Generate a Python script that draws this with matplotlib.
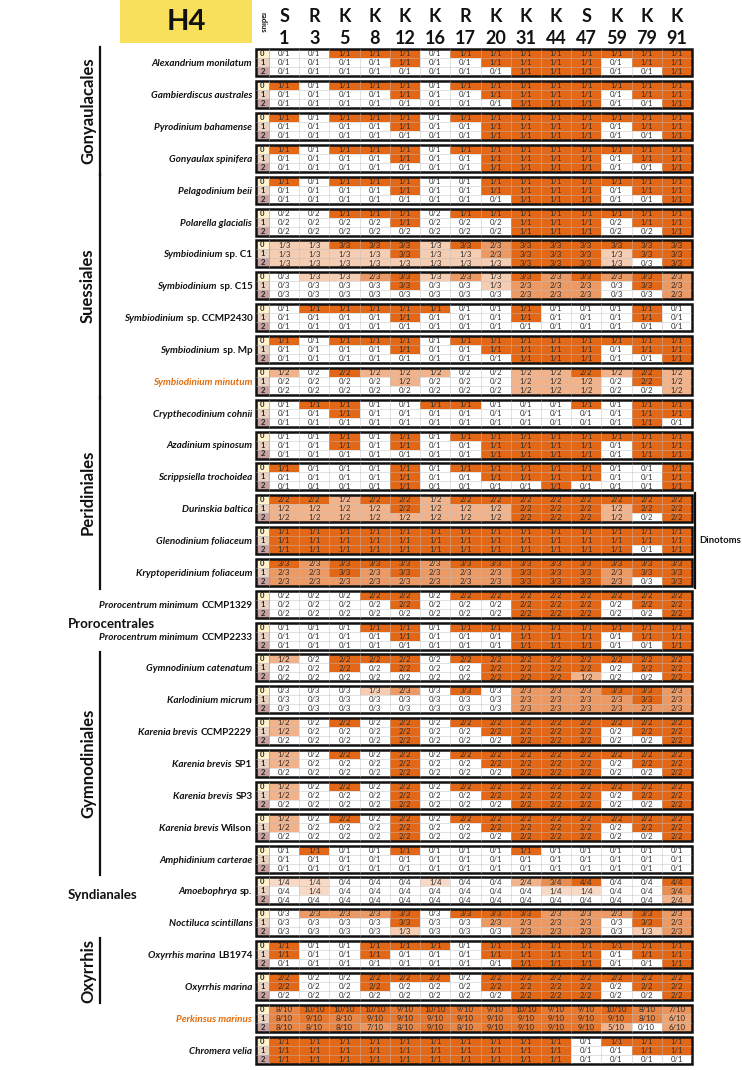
import matplotlib
matplotlib.use("Agg")
import matplotlib.pyplot as plt
import matplotlib.patches as mpatches
import matplotlib.transforms as mtrans

plt.rcParams['font.family'] = ['Lato', 'DejaVu Sans']

# ---------------- data ----------------
residues = ['S', 'R', 'K', 'K', 'K', 'K', 'R', 'K', 'K', 'K', 'S', 'K', 'K', 'K']
numbers = ['1', '3', '5', '8', '12', '16', '17', '20', '31', '44', '47', '59', '79', '91']
radius_labels = ['0', '1', '2']

species_italic = [
    'Alexandrium monilatum', 'Gambierdiscus australes', 'Pyrodinium bahamense', 'Gonyaulax spinifera',
    'Pelagodinium beii', 'Polarella glacialis', 'Symbiodinium', 'Symbiodinium', 'Symbiodinium',
    'Symbiodinium', 'Symbiodinium minutum', 'Crypthecodinium cohnii', 'Azadinium spinosum',
    'Scrippsiella trochoidea', 'Durinskia baltica', 'Glenodinium foliaceum', 'Kryptoperidinium foliaceum',
    'Prorocentrum minimum', 'Prorocentrum minimum', 'Gymnodinium catenatum', 'Karlodinium micrum',
    'Karenia brevis', 'Karenia brevis', 'Karenia brevis', 'Karenia brevis', 'Amphidinium carterae',
    'Amoebophrya', 'Noctiluca scintillans', 'Oxyrrhis marina', 'Oxyrrhis marina', 'Perkinsus marinus',
    'Chromera velia']
species_suffix = [
    '', '', '', '', '', '', 'sp. C1', 'sp. C15', 'sp. CCMP2430', 'sp. Mp', '', '', '', '', '', '', '',
    'CCMP1329', 'CCMP2233', '', '', 'CCMP2229', 'SP1', 'SP3', 'Wilson', '', 'sp.', '', 'LB1974', '', '', '']
highlighted_species = ['Symbiodinium minutum', 'Perkinsus marinus']

groups_vertical = [('Gonyaulacales', 0, 3), ('Suessiales', 4, 10), ('Peridiniales', 11, 16),
                   ('Gymnodiniales', 19, 25), ('Oxyrrhis', 28, 29)]
groups_horizontal = [('Prorocentrales', 17, 18), ('Syndianales', 26, 26)]
dinotoms = ('Dinotoms', 14, 16)

alexandrium_monilatum = [
    "0/1 0/1 1/1 1/1 1/1 0/1 1/1 1/1 1/1 1/1 1/1 1/1 1/1 1/1",
    "0/1 0/1 0/1 0/1 1/1 0/1 0/1 1/1 1/1 1/1 1/1 0/1 1/1 1/1",
    "0/1 0/1 0/1 0/1 0/1 0/1 0/1 0/1 1/1 1/1 1/1 0/1 0/1 1/1"]
gambierdiscus_australes = [
    "1/1 0/1 1/1 1/1 1/1 0/1 1/1 1/1 1/1 1/1 1/1 1/1 1/1 1/1",
    "0/1 0/1 0/1 0/1 1/1 0/1 0/1 1/1 1/1 1/1 1/1 0/1 1/1 1/1",
    "0/1 0/1 0/1 0/1 0/1 0/1 0/1 0/1 1/1 1/1 1/1 0/1 0/1 1/1"]
pyrodinium_bahamense = [
    "1/1 0/1 1/1 1/1 1/1 0/1 1/1 1/1 1/1 1/1 1/1 1/1 1/1 1/1",
    "0/1 0/1 0/1 0/1 1/1 0/1 0/1 1/1 1/1 1/1 1/1 0/1 1/1 1/1",
    "0/1 0/1 0/1 0/1 0/1 0/1 0/1 1/1 1/1 1/1 1/1 0/1 0/1 1/1"]
gonyaulax_spinifera = [
    "1/1 0/1 1/1 1/1 1/1 0/1 1/1 1/1 1/1 1/1 1/1 1/1 1/1 1/1",
    "0/1 0/1 0/1 0/1 1/1 0/1 0/1 1/1 1/1 1/1 1/1 0/1 1/1 1/1",
    "0/1 0/1 0/1 0/1 0/1 0/1 0/1 1/1 1/1 1/1 1/1 0/1 0/1 1/1"]
pelagodinium_beii = [
    "1/1 0/1 1/1 1/1 1/1 0/1 0/1 1/1 1/1 1/1 1/1 1/1 1/1 1/1",
    "0/1 0/1 0/1 0/1 1/1 0/1 0/1 1/1 1/1 1/1 1/1 0/1 1/1 1/1",
    "0/1 0/1 0/1 0/1 0/1 0/1 0/1 0/1 1/1 1/1 1/1 0/1 0/1 1/1"]
polarella_glacialis = [
    "0/2 0/2 1/1 1/1 1/1 0/2 1/1 1/1 1/1 1/1 1/1 1/1 1/1 1/1",
    "0/2 0/2 0/2 0/2 1/1 0/2 0/2 0/2 1/1 1/1 1/1 0/2 1/1 1/1",
    "0/2 0/2 0/2 0/2 0/2 0/2 0/2 0/2 1/1 1/1 1/1 0/2 0/2 1/1"]
symbiodinium_c1 = [
    "1/3 1/3 3/3 3/3 3/3 1/3 3/3 2/3 3/3 3/3 3/3 3/3 3/3 3/3",
    "1/3 1/3 1/3 1/3 3/3 1/3 1/3 2/3 3/3 3/3 3/3 1/3 3/3 3/3",
    "1/3 1/3 1/3 1/3 1/3 1/3 1/3 1/3 3/3 3/3 3/3 1/3 0/3 3/3"]
symbiodinium_c15 = [
    "0/3 1/3 1/3 2/3 3/3 1/3 2/3 1/3 3/3 2/3 3/3 2/3 3/3 2/3",
    "0/3 0/3 0/3 0/3 3/3 0/3 0/3 1/3 2/3 2/3 2/3 0/3 3/3 2/3",
    "0/3 0/3 0/3 0/3 0/3 0/3 0/3 0/3 2/3 2/3 2/3 0/3 0/3 2/3"]
symbiodinium_ccmp2430 = [
    "0/1 1/1 1/1 1/1 1/1 1/1 0/1 0/1 1/1 0/1 0/1 0/1 1/1 0/1",
    "0/1 0/1 0/1 0/1 1/1 0/1 0/1 0/1 1/1 0/1 0/1 0/1 1/1 0/1",
    "0/1 0/1 0/1 0/1 0/1 0/1 0/1 0/1 0/1 0/1 0/1 0/1 0/1 0/1"]
symbiodinium_mp = [
    "1/1 0/1 1/1 1/1 1/1 0/1 1/1 1/1 1/1 1/1 1/1 1/1 1/1 1/1",
    "0/1 0/1 0/1 0/1 1/1 0/1 0/1 1/1 1/1 1/1 1/1 0/1 1/1 1/1",
    "0/1 0/1 0/1 0/1 0/1 0/1 0/1 0/1 1/1 1/1 1/1 0/1 0/1 1/1"]
symbiodinium_minutum = [
    "1/2 0/2 2/2 1/2 1/2 1/2 0/2 0/2 1/2 1/2 2/2 1/2 2/2 1/2",
    "0/2 0/2 0/2 0/2 1/2 0/2 0/2 0/2 1/2 1/2 1/2 0/2 2/2 1/2",
    "0/2 0/2 0/2 0/2 0/2 0/2 0/2 0/2 1/2 1/2 1/2 0/2 0/2 1/2"]
crypthecodinium_cohnii = [
    "0/1 1/1 1/1 0/1 0/1 1/1 1/1 0/1 0/1 0/1 1/1 0/1 1/1 1/1",
    "0/1 0/1 1/1 0/1 0/1 0/1 0/1 0/1 0/1 0/1 0/1 0/1 1/1 1/1",
    "0/1 0/1 0/1 0/1 0/1 0/1 0/1 0/1 0/1 0/1 0/1 0/1 1/1 0/1"]
azadinium_spinosum = [
    "0/1 0/1 1/1 0/1 1/1 0/1 1/1 1/1 1/1 1/1 1/1 1/1 1/1 1/1",
    "0/1 0/1 1/1 0/1 1/1 0/1 0/1 1/1 1/1 1/1 1/1 0/1 1/1 1/1",
    "0/1 0/1 0/1 0/1 0/1 0/1 0/1 1/1 1/1 1/1 1/1 0/1 1/1 1/1"]
scrippsiella_trochoidea = [
    "1/1 0/1 0/1 0/1 1/1 0/1 1/1 1/1 1/1 1/1 1/1 0/1 0/1 1/1",
    "0/1 0/1 0/1 0/1 1/1 0/1 0/1 1/1 1/1 1/1 1/1 0/1 0/1 1/1",
    "0/1 0/1 0/1 0/1 1/1 0/1 0/1 0/1 0/1 1/1 0/1 0/1 0/1 1/1"]
durinskia_baltica = [
    "2/2 2/2 1/2 2/2 2/2 1/2 2/2 2/2 2/2 2/2 2/2 2/2 2/2 2/2",
    "1/2 1/2 1/2 1/2 2/2 1/2 1/2 1/2 2/2 2/2 2/2 1/2 2/2 2/2",
    "1/2 1/2 1/2 1/2 1/2 1/2 1/2 1/2 2/2 2/2 2/2 1/2 0/2 2/2"]
glenodinium_foliaceum = [
    "1/1 1/1 1/1 1/1 1/1 1/1 1/1 1/1 1/1 1/1 1/1 1/1 1/1 1/1",
    "1/1 1/1 1/1 1/1 1/1 1/1 1/1 1/1 1/1 1/1 1/1 1/1 1/1 1/1",
    "1/1 1/1 1/1 1/1 1/1 1/1 1/1 1/1 1/1 1/1 1/1 1/1 0/1 1/1"]
kryptoperidinium_foliaceum = [
    "3/3 2/3 3/3 3/3 3/3 2/3 3/3 3/3 3/3 3/3 3/3 3/3 3/3 3/3",
    "2/3 2/3 3/3 2/3 3/3 2/3 2/3 2/3 3/3 3/3 3/3 2/3 3/3 3/3",
    "2/3 2/3 2/3 2/3 2/3 2/3 2/3 2/3 3/3 3/3 3/3 2/3 0/3 3/3"]
prorocentrum_ccmp1329 = [
    "0/2 0/2 0/2 2/2 2/2 0/2 2/2 2/2 2/2 2/2 2/2 2/2 2/2 2/2",
    "0/2 0/2 0/2 0/2 2/2 0/2 0/2 0/2 2/2 2/2 2/2 0/2 2/2 2/2",
    "0/2 0/2 0/2 0/2 0/2 0/2 0/2 0/2 2/2 2/2 2/2 0/2 0/2 2/2"]
prorocentrum_ccmp2233 = [
    "0/1 0/1 0/1 1/1 1/1 0/1 1/1 1/1 1/1 1/1 1/1 1/1 1/1 1/1",
    "0/1 0/1 0/1 0/1 1/1 0/1 0/1 0/1 1/1 1/1 1/1 0/1 1/1 1/1",
    "0/1 0/1 0/1 0/1 0/1 0/1 0/1 0/1 1/1 1/1 1/1 0/1 0/1 1/1"]
gymnodinium_catenatum = [
    "1/2 0/2 2/2 2/2 2/2 0/2 2/2 2/2 2/2 2/2 2/2 2/2 2/2 2/2",
    "0/2 0/2 2/2 0/2 2/2 0/2 0/2 2/2 2/2 2/2 2/2 0/2 2/2 2/2",
    "0/2 0/2 0/2 0/2 0/2 0/2 0/2 2/2 2/2 2/2 1/2 0/2 0/2 2/2"]
karlodinium_micrum = [
    "0/3 0/3 0/3 1/3 2/3 0/3 3/3 0/3 2/3 2/3 2/3 3/3 3/3 2/3",
    "0/3 0/3 0/3 0/3 0/3 0/3 0/3 0/3 2/3 2/3 2/3 2/3 3/3 2/3",
    "0/3 0/3 0/3 0/3 0/3 0/3 0/3 0/3 2/3 2/3 2/3 2/3 2/3 2/3"]
karenia_ccmp2229 = [
    "1/2 0/2 2/2 0/2 2/2 0/2 2/2 2/2 2/2 2/2 2/2 2/2 2/2 2/2",
    "1/2 0/2 0/2 0/2 2/2 0/2 0/2 2/2 2/2 2/2 2/2 0/2 2/2 2/2",
    "0/2 0/2 0/2 0/2 2/2 0/2 0/2 0/2 2/2 2/2 2/2 0/2 0/2 2/2"]
karenia_sp1 = [
    "1/2 0/2 2/2 0/2 2/2 0/2 2/2 2/2 2/2 2/2 2/2 2/2 2/2 2/2",
    "1/2 0/2 0/2 0/2 2/2 0/2 0/2 2/2 2/2 2/2 2/2 0/2 2/2 2/2",
    "0/2 0/2 0/2 0/2 2/2 0/2 0/2 0/2 2/2 2/2 2/2 0/2 0/2 2/2"]
karenia_sp3 = [
    "1/2 0/2 2/2 0/2 2/2 0/2 2/2 2/2 2/2 2/2 2/2 2/2 2/2 2/2",
    "1/2 0/2 0/2 0/2 2/2 0/2 0/2 2/2 2/2 2/2 2/2 0/2 2/2 2/2",
    "0/2 0/2 0/2 0/2 2/2 0/2 0/2 0/2 2/2 2/2 2/2 0/2 0/2 2/2"]
karenia_wilson = [
    "1/2 0/2 2/2 0/2 2/2 0/2 2/2 2/2 2/2 2/2 2/2 2/2 2/2 2/2",
    "1/2 0/2 0/2 0/2 2/2 0/2 0/2 2/2 2/2 2/2 2/2 0/2 2/2 2/2",
    "0/2 0/2 0/2 0/2 2/2 0/2 0/2 0/2 2/2 2/2 2/2 0/2 0/2 2/2"]
amphidinium_carterae = [
    "0/1 1/1 0/1 0/1 1/1 0/1 0/1 0/1 1/1 0/1 0/1 0/1 0/1 0/1",
    "0/1 0/1 0/1 0/1 0/1 0/1 0/1 0/1 0/1 0/1 0/1 0/1 0/1 0/1",
    "0/1 0/1 0/1 0/1 0/1 0/1 0/1 0/1 0/1 0/1 0/1 0/1 0/1 0/1"]
amoebophrya_sp = [
    "1/4 1/4 0/4 0/4 0/4 1/4 0/4 0/4 2/4 3/4 4/4 0/4 0/4 4/4",
    "0/4 1/4 0/4 0/4 0/4 0/4 0/4 0/4 0/4 1/4 1/4 0/4 0/4 3/4",
    "0/4 0/4 0/4 0/4 0/4 0/4 0/4 0/4 0/4 0/4 0/4 0/4 0/4 2/4"]
noctiluca_scintillans = [
    "0/3 2/3 2/3 2/3 3/3 0/3 3/3 3/3 3/3 2/3 2/3 2/3 3/3 2/3",
    "0/3 0/3 0/3 0/3 3/3 0/3 0/3 2/3 2/3 2/3 2/3 0/3 3/3 2/3",
    "0/3 0/3 0/3 0/3 1/3 0/3 0/3 0/3 2/3 2/3 2/3 0/3 1/3 2/3"]
oxyrrhis_lb1974 = [
    "1/1 0/1 0/1 1/1 1/1 1/1 0/1 1/1 1/1 1/1 1/1 1/1 1/1 1/1",
    "1/1 0/1 0/1 1/1 0/1 0/1 0/1 1/1 1/1 1/1 1/1 0/1 1/1 1/1",
    "0/1 0/1 0/1 0/1 0/1 0/1 0/1 0/1 1/1 1/1 1/1 0/1 0/1 1/1"]
oxyrrhis_marina = [
    "2/2 0/2 0/2 2/2 2/2 2/2 0/2 2/2 2/2 2/2 2/2 2/2 2/2 2/2",
    "2/2 0/2 0/2 2/2 0/2 0/2 0/2 2/2 2/2 2/2 2/2 0/2 2/2 2/2",
    "0/2 0/2 0/2 0/2 0/2 0/2 0/2 0/2 2/2 2/2 2/2 0/2 0/2 2/2"]
perkinsus_marinus = [
    "8/10 10/10 10/10 10/10 9/10 10/10 9/10 9/10 10/10 9/10 9/10 10/10 8/10 7/10",
    "8/10 9/10 8/10 9/10 9/10 9/10 9/10 9/10 9/10 9/10 9/10 9/10 8/10 6/10",
    "8/10 8/10 8/10 7/10 8/10 9/10 8/10 9/10 9/10 9/10 9/10 5/10 0/10 6/10"]
chromera_velia = [
    "1/1 1/1 1/1 1/1 1/1 1/1 1/1 1/1 1/1 1/1 0/1 1/1 1/1 1/1",
    "1/1 1/1 1/1 1/1 1/1 1/1 1/1 1/1 1/1 1/1 0/1 0/1 1/1 1/1",
    "1/1 1/1 1/1 1/1 1/1 1/1 1/1 1/1 1/1 1/1 0/1 0/1 0/1 0/1"]

blocks = [alexandrium_monilatum, gambierdiscus_australes, pyrodinium_bahamense, gonyaulax_spinifera,
          pelagodinium_beii, polarella_glacialis, symbiodinium_c1, symbiodinium_c15, symbiodinium_ccmp2430,
          symbiodinium_mp, symbiodinium_minutum, crypthecodinium_cohnii, azadinium_spinosum,
          scrippsiella_trochoidea, durinskia_baltica, glenodinium_foliaceum, kryptoperidinium_foliaceum,
          prorocentrum_ccmp1329, prorocentrum_ccmp2233, gymnodinium_catenatum, karlodinium_micrum,
          karenia_ccmp2229, karenia_sp1, karenia_sp3, karenia_wilson, amphidinium_carterae,
          amoebophrya_sp, noctiluca_scintillans, oxyrrhis_lb1974, oxyrrhis_marina, perkinsus_marinus,
          chromera_velia]

# ---------------- style / layout ----------------
W, H = 742, 1070
ORANGE = (226 / 255, 104 / 255, 24 / 255)
HILITE = '#E46C0A'
RADIUS_COLORS = ['#FFF2CC', '#E9D2C2', '#C9A2A2']
x_left_px, x_cells_px, x_right_px = 256, 269, 692
row_px, pitch_px, top_px = 9.0, 31.85, 49.3

ncol = len(numbers)
cw = (x_right_px - x_cells_px) / ncol
rw = (x_cells_px - x_left_px) / cw
pitch = pitch_px / row_px
nb = len(blocks)
total_rows = (nb - 1) * pitch + 3
bottom_px = top_px + total_rows * row_px


def cell_color(txt):
    n, d = txt.split('/')
    f = float(n) / float(d)
    return tuple(1 - f * (1 - c) for c in ORANGE)


fig = plt.figure(figsize=(W / 100, H / 100), dpi=100)
ax = fig.add_axes([x_left_px / W, 1 - bottom_px / H, (x_right_px - x_left_px) / W, (bottom_px - top_px) / H])
ax.set_xlim(-rw, ncol)
ax.set_ylim(total_rows, 0)
ax.axis('off')

for b, rows in enumerate(blocks):
    y_top = b * pitch
    for r, rowtxt in enumerate(rows):
        vals = rowtxt.split()
        y = y_top + r
        ax.add_patch(mpatches.Rectangle((-rw, y), rw, 1, facecolor=RADIUS_COLORS[r], edgecolor='none'))
        ax.text(-rw / 2, y + 0.5, radius_labels[r], ha='center', va='center', fontsize=5.5,
                fontweight='bold', color='#222222')
        for c, v in enumerate(vals):
            ax.add_patch(mpatches.Rectangle((c, y), 1, 1, facecolor=cell_color(v), edgecolor='none'))
            ax.text(c + 0.5, y + 0.52, v, ha='center', va='center', fontsize=5.6, color='#2a2a2a')
    for c in range(1, ncol):
        ax.plot([c, c], [y_top, y_top + 3], color='#bdbdbd', lw=0.4, alpha=0.8)
    for r in (1, 2):
        ax.plot([-rw, ncol], [y_top + r, y_top + r], color='#bdbdbd', lw=0.4, alpha=0.8)
    ax.plot([0, 0], [y_top, y_top + 3], color='#9a9a9a', lw=0.5)
    ax.add_patch(mpatches.Rectangle((-rw, y_top), ncol + rw, 3, fill=False, edgecolor='#111111',
                                    lw=1.8, clip_on=False))

# ---------------- header ----------------
hdr = mtrans.blended_transform_factory(ax.transData, fig.transFigure)
for c in range(ncol):
    ax.text(c + 0.5, 1 - 16 / H, residues[c], transform=hdr, ha='center', va='center',
            fontsize=13, fontweight='bold', color='#111111')
    ax.text(c + 0.5, 1 - 39 / H, numbers[c], transform=hdr, ha='center', va='center',
            fontsize=13, fontweight='bold', color='#111111')

fig.patches.append(mpatches.Rectangle((120 / W, 1 - 43 / H), 132 / W, 43 / H, transform=fig.transFigure,
                                      facecolor='#F9E05C', edgecolor='none'))
fig.text(186 / W, 1 - 22 / H, 'H4', ha='center', va='center', fontsize=21, fontweight='bold', color='#111111')
fig.text(263 / W, 1 - 22 / H, 'radius', ha='center', va='center', rotation=270, fontsize=5.5,
         fontweight='bold', color='#111111')

# ---------------- species labels ----------------
fig.canvas.draw()
renderer = fig.canvas.get_renderer()
FS = 7.1
for b in range(nb):
    y = b * pitch + 1.5
    x = -rw - 0.12
    name = species_italic[b]
    color = HILITE if name in highlighted_species else '#111111'
    suffix = species_suffix[b]
    if suffix:
        t = ax.text(x, y, suffix, ha='right', va='center_baseline', fontsize=FS, fontweight='bold', color=color)
        bb = t.get_window_extent(renderer)
        tr = mtrans.offset_copy(ax.transData, fig=fig, x=-(bb.width + 3), y=0, units='dots')
        ax.text(x, y, name, transform=tr, ha='right', va='center_baseline', fontsize=FS,
                fontweight='bold', fontstyle='italic', color=color)
    else:
        ax.text(x, y, name, ha='right', va='center_baseline', fontsize=FS, fontweight='bold',
                fontstyle='italic', color=color)

# ---------------- group labels ----------------
grp = mtrans.blended_transform_factory(fig.transFigure, ax.transData)
line_x = 100 / W
for name, b0, b1 in groups_vertical:
    y0 = b0 * pitch - 0.3
    y1 = b1 * pitch + 3.3
    ax.plot([line_x, line_x], [y0, y1], transform=grp, color='#111111', lw=1.6, clip_on=False)
    ax.text(line_x - 12 / W, (y0 + y1) / 2, name, transform=grp, rotation=90, ha='center', va='center',
            fontsize=12, fontweight='bold', color='#111111')
for name, b0, b1 in groups_horizontal:
    yc = (b0 * pitch + b1 * pitch + 3) / 2 + 0.4
    ax.text(68 / W, yc, name, transform=grp, ha='left', va='center', fontsize=9.5, fontweight='bold',
            color='#111111')

name, b0, b1 = dinotoms
dx = 695 / W
ax.plot([dx, dx], [b0 * pitch - 0.2, b1 * pitch + 3.2], transform=grp, color='#111111', lw=1.6, clip_on=False)
ax.text(699 / W, (b0 * pitch + b1 * pitch + 3) / 2, name, transform=grp, ha='left', va='center',
        fontsize=6.8, fontweight='bold', color='#111111')

fig.savefig('out.png', dpi=100)
